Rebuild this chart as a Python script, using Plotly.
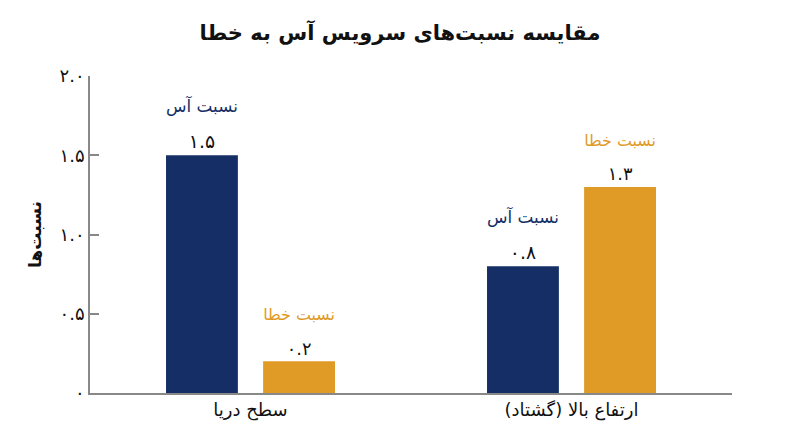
import plotly.graph_objects as go

categories = ['سطح دریا', 'ارتفاع بالا (گشتاد)']
ace_ratio = [1.5, 0.8]
fault_ratio = [0.2, 1.3]
series_names = ['نسبت آس', 'نسبت خطا']
y_tickvals = [0, 0.5, 1.0, 1.5, 2.0]
y_ticktext = ['۰', '۰.۵', '۱.۰', '۱.۵', '۲.۰']

navy = '#152f66'
orange = '#e09a26'
font_fa = 'DejaVu Sans'

persian = str.maketrans('0123456789', '۰۱۲۳۴۵۶۷۸۹')


def fa_num(v):
    return f'{v:.1f}'.translate(persian)


def bar_labels(name, color, values):
    return [f"<span style='color:{color};font-size:17px'>{name}</span><br><br>"
            f"<span style='color:#111;font-size:19px'>{fa_num(v)}</span>" for v in values]


fig = go.Figure()
fig.add_trace(go.Bar(x=categories, y=ace_ratio, name=series_names[0],
                     marker=dict(color=navy, line=dict(width=0)),
                     text=bar_labels(series_names[0], navy, ace_ratio),
                     textposition='outside', cliponaxis=False,
                     textfont=dict(family=font_fa, size=14)))
fig.add_trace(go.Bar(x=categories, y=fault_ratio, name=series_names[1],
                     marker=dict(color=orange, line=dict(width=0)),
                     text=bar_labels(series_names[1], orange, fault_ratio),
                     textposition='outside', cliponaxis=False,
                     textfont=dict(family=font_fa, size=14)))

# page has an 8px body margin, so the figure is a bit smaller than the window
fig.update_layout(
    width=792, height=439,
    barmode='group', bargap=0.395, bargroupgap=0.26,
    showlegend=False,
    plot_bgcolor='white', paper_bgcolor='white',
    margin=dict(l=82, r=68, t=68, b=54, autoexpand=False),
    font=dict(family=font_fa, color='#111'),
    title=dict(text='<b>مقایسه نسبت‌های سرویس آس به خطا</b>',
               x=(400 - 8) / 792, xanchor='center', y=1 - 25 / 439, yanchor='middle',
               font=dict(size=21, color='#111')),
)
fig.update_xaxes(showline=True, linecolor='#888', linewidth=1.5,
                 ticks='', tickfont=dict(size=18, color='#111'),
                 showgrid=False)
fig.update_yaxes(range=[0, 2], showline=True, linecolor='#888', linewidth=1.5,
                 ticks='inside', ticklen=9, tickcolor='#888', tickwidth=1.5,
                 tickvals=y_tickvals, ticktext=y_ticktext,
                 tickfont=dict(size=18, color='#111'),
                 showgrid=False, zeroline=False,
                 title=dict(text='<b>نسبت‌ها</b>', font=dict(size=17, color='#111'),
                            standoff=14))

fig.write_html('out.html')
